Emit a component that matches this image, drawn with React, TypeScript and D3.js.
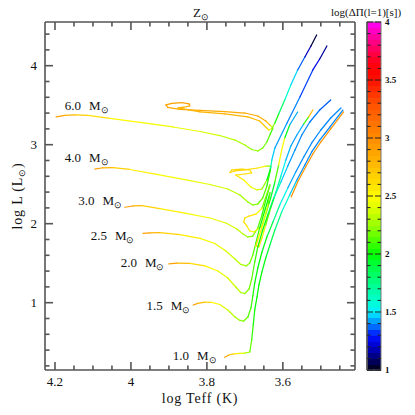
import React from "react";
import * as d3 from "d3";

// ---------- axis / scale data ----------
const X_DOMAIN = [4.2263, 3.41];
const Y_DOMAIN = [0.148, 4.553];
const CB_DOMAIN = [1, 4];

const xMajorTicks = [4.2, 4.0, 3.8, 3.6];
const xTickLabels = ["4.2", "4", "3.8", "3.6"];
const yMajorTicks = [1, 2, 3, 4];
const yTickLabels = ["1", "2", "3", "4"];
const cbMajorTicks = [1, 1.5, 2, 2.5, 3, 3.5, 4];
const cbTickLabels = ["1", "1.5", "2", "2.5", "3", "3.5", "4"];

// colour map of log(ΔΠ)
const cmapStops = [1.0, 1.1, 1.2, 1.3, 1.4, 1.5, 1.6, 1.7, 1.8, 1.9, 2.0, 2.1, 2.2, 2.3, 2.4, 2.5, 2.6, 2.7, 2.8, 2.9, 3.0, 3.1, 3.2, 3.3, 3.4, 3.5, 3.6, 3.7, 3.8, 3.9, 4.0];
const cmapColors = ["#000010", "#000070", "#0000c8", "#0010ff", "#0088ff", "#00f0ff", "#00ffd0", "#00ffa0", "#00ff70", "#00ff40", "#00ff00", "#40ff00", "#80ff00", "#b0ff00", "#e0ff00", "#ffff00", "#ffe000", "#ffcc00", "#ffb400", "#ffa000", "#ff8c00", "#ff7800", "#ff6400", "#ff5000", "#ff3000", "#ff1000", "#ff0000", "#ff0030", "#ff0070", "#ff00b0", "#ff00ff"];

// ---------- tracks: [log Teff, log L, log ΔΠ] ----------
const track60 = [
  [4.197, 3.351, 2.95], [4.174, 3.37, 2.85], [4.147, 3.376, 2.75], [4.113, 3.37, 2.65],
  [4.055, 3.332, 2.55], [3.976, 3.281, 2.48], [3.889, 3.224, 2.45], [3.818, 3.167, 2.4],
  [3.766, 3.116, 2.35], [3.726, 3.059, 2.3], [3.7, 2.996, 2.28], [3.682, 2.939, 2.25],
  [3.666, 2.92, 2.22], [3.653, 2.958, 2.2], [3.642, 3.034, 2.15], [3.633, 3.135, 2.1],
  [3.626, 3.211, 2.05],
  [3.634, 3.249, 2.7], [3.645, 3.3, 2.8], [3.666, 3.363, 2.85], [3.7, 3.401, 2.85],
  [3.753, 3.42, 2.85], [3.818, 3.433, 2.85], [3.871, 3.446, 2.85], [3.903, 3.471, 2.85],
  [3.908, 3.503, 2.9], [3.892, 3.522, 2.9], [3.866, 3.532, 2.9], [3.847, 3.518, 2.9],
  [3.845, 3.492, 2.85], [3.861, 3.474, 2.8], [3.876, 3.465, 2.8],
  [3.818, 3.414, 2.8], [3.753, 3.389, 2.8], [3.692, 3.351, 2.8], [3.661, 3.3, 2.75],
  [3.645, 3.224, 2.7], [3.637, 3.186, 2.6], [3.629, 3.205, 2.3], [3.621, 3.275, 2.1],
  [3.611, 3.389, 1.95], [3.595, 3.566, 1.7], [3.579, 3.756, 1.5], [3.561, 3.946, 1.45],
  [3.542, 4.11, 1.28], [3.526, 4.249, 1.1], [3.511, 4.389, 1.0],
];

const track40 = [
  [4.095, 2.691, 2.95], [4.074, 2.708, 2.85], [4.047, 2.709, 2.75], [4.003, 2.686, 2.6],
  [3.932, 2.623, 2.5], [3.858, 2.559, 2.45], [3.792, 2.496, 2.4], [3.745, 2.439, 2.35],
  [3.713, 2.363, 2.3], [3.692, 2.275, 2.25], [3.679, 2.237, 2.22], [3.666, 2.249, 2.2],
  [3.653, 2.325, 2.15], [3.642, 2.477, 2.1], [3.634, 2.654, 2.05], [3.632, 2.73, 2.0],
  [3.645, 2.73, 2.5], [3.666, 2.705, 2.6], [3.7, 2.68, 2.65], [3.726, 2.667, 2.65],
  [3.739, 2.648, 2.65], [3.734, 2.68, 2.65], [3.708, 2.692, 2.65], [3.687, 2.68, 2.6],
  [3.682, 2.642, 2.6], [3.7, 2.629, 2.6], [3.724, 2.616, 2.6],
  [3.703, 2.553, 2.55], [3.684, 2.465, 2.45], [3.668, 2.427, 2.4], [3.655, 2.439, 2.3],
  [3.642, 2.553, 2.15], [3.632, 2.705, 1.8], [3.629, 2.806, 1.5], [3.621, 2.958, 1.43],
  [3.589, 3.275, 1.41], [3.555, 3.604, 1.38], [3.521, 3.946, 1.3], [3.503, 4.085, 1.2],
  [3.484, 4.249, 1.1],
];

const track30 = [
  [4.016, 2.208, 2.95], [3.995, 2.224, 2.85], [3.971, 2.228, 2.75], [3.924, 2.192, 2.6],
  [3.858, 2.135, 2.5], [3.792, 2.072, 2.45], [3.75, 2.009, 2.4], [3.721, 1.933, 2.35],
  [3.705, 1.87, 2.3], [3.692, 1.832, 2.25], [3.679, 1.844, 2.2], [3.666, 1.946, 2.15],
  [3.655, 2.11, 2.1], [3.645, 2.3, 2.05], [3.634, 2.49, 2.0],
  [3.655, 2.196, 2.4], [3.671, 2.12, 2.55], [3.689, 2.097, 2.6], [3.7, 2.072, 2.6],
  [3.703, 2.022, 2.6], [3.695, 1.971, 2.6], [3.687, 1.908, 2.55], [3.676, 1.895, 2.5],
  [3.655, 1.971, 2.3], [3.645, 2.123, 2.1], [3.632, 2.325, 2.0], [3.621, 2.528, 1.85],
  [3.611, 2.743, 2.4], [3.603, 2.933, 2.55], [3.595, 3.085, 2.45], [3.582, 3.249, 1.45],
  [3.561, 3.414, 1.42],
];

const track25 = [
  [3.968, 1.878, 2.95], [3.95, 1.885, 2.85], [3.924, 1.886, 2.75], [3.871, 1.863, 2.6],
  [3.818, 1.813, 2.5], [3.779, 1.749, 2.45], [3.75, 1.654, 2.4], [3.726, 1.553, 2.35],
  [3.711, 1.484, 2.3], [3.697, 1.465, 2.25], [3.687, 1.503, 2.2], [3.679, 1.604, 2.15],
  [3.671, 1.756, 2.1], [3.661, 1.946, 2.05], [3.647, 2.173, 2.0], [3.634, 2.389, 2.0],
  [3.639, 2.237, 2.3], [3.653, 1.984, 2.5], [3.666, 1.794, 2.6], [3.671, 1.718, 2.6],
  [3.663, 1.706, 2.6], [3.655, 1.819, 2.55], [3.645, 1.984, 2.3], [3.632, 2.199, 2.05],
  [3.618, 2.401, 1.85], [3.605, 2.604, 1.6], [3.592, 2.806, 1.47], [3.579, 2.984, 1.42],
  [3.563, 3.123, 1.42], [3.545, 3.262, 1.45], [3.532, 3.351, 2.7], [3.521, 3.439, 2.85],
];

const track20 = [
  [3.9, 1.49, 2.95], [3.879, 1.5, 2.85], [3.845, 1.499, 2.7], [3.805, 1.465, 2.55],
  [3.771, 1.401, 2.45], [3.745, 1.313, 2.4], [3.724, 1.199, 2.35], [3.711, 1.129, 2.3],
  [3.7, 1.116, 2.25], [3.689, 1.173, 2.2], [3.682, 1.3, 2.15], [3.674, 1.515, 2.1],
  [3.666, 1.705, 2.05], [3.653, 1.92, 2.0], [3.639, 2.123, 1.95], [3.624, 2.325, 1.75],
  [3.605, 2.528, 1.5], [3.587, 2.73, 1.43], [3.568, 2.933, 1.41], [3.55, 3.123, 1.4],
  [3.529, 3.287, 1.4], [3.503, 3.439, 1.38], [3.474, 3.566, 1.35],
];

const track15 = [
  [3.836, 0.971, 2.95], [3.824, 0.992, 2.85], [3.805, 1.006, 2.7], [3.787, 1.003, 2.55],
  [3.766, 0.977, 2.45], [3.745, 0.908, 2.35], [3.726, 0.819, 2.3], [3.713, 0.775, 2.25],
  [3.703, 0.768, 2.2], [3.692, 0.819, 2.15], [3.684, 0.933, 2.1], [3.679, 1.085, 2.05],
  [3.674, 1.25, 2.0], [3.666, 1.439, 2.0], [3.655, 1.642, 2.0], [3.642, 1.832, 1.95],
  [3.626, 2.022, 1.85], [3.608, 2.237, 1.65], [3.587, 2.452, 1.45], [3.566, 2.655, 1.41],
  [3.545, 2.844, 1.4], [3.524, 3.022, 1.4], [3.5, 3.186, 1.4], [3.474, 3.338, 1.4],
  [3.447, 3.465, 1.4],
];

const track10 = [
  [3.753, 0.309, 2.95], [3.742, 0.338, 2.8], [3.729, 0.353, 2.65], [3.713, 0.359, 2.5],
  [3.7, 0.363, 2.35], [3.687, 0.376, 2.2], [3.682, 0.528, 2.1], [3.678, 0.718, 2.05],
  [3.674, 0.908, 2.0], [3.668, 1.073, 2.0], [3.663, 1.225, 2.0], [3.655, 1.389, 2.0],
  [3.645, 1.566, 1.95], [3.634, 1.73, 1.9], [3.621, 1.92, 1.85], [3.603, 2.148, 1.7],
  [3.582, 2.363, 1.5], [3.563, 2.553, 1.42], [3.542, 2.743, 1.4], [3.524, 2.908, 1.4],
  [3.503, 3.059, 1.4], [3.476, 3.224, 1.4], [3.442, 3.439, 1.4],
];

const track10Agb = [
  [3.578, 2.338, 2.95], [3.561, 2.528, 2.95], [3.54, 2.718, 2.95], [3.521, 2.882, 2.95],
  [3.5, 3.034, 2.95], [3.474, 3.199, 2.95], [3.44, 3.414, 2.95],
];

const massLabels = ["6.0", "4.0", "3.0", "2.5", "2.0", "1.5", "1.0"];
const labelPos = [
  [4.174, 3.439], [4.174, 2.781], [4.139, 2.237], [4.106, 1.794],
  [4.027, 1.456], [3.959, 0.908], [3.89, 0.275],
];

const allTracks = [track10Agb, track60, track40, track30, track25, track20, track15, track10];

const SERIF = "'Liberation Serif', 'Times New Roman', serif";
const AX = "#555";

export default function App() {
  const x = d3.scaleLinear().domain(X_DOMAIN).range([45, 355]);
  const y = d3.scaleLinear().domain(Y_DOMAIN).range([370, 22]);
  const cb = d3.scaleLinear().domain(CB_DOMAIN).range([370, 22]);
  const cmap = d3
    .scaleLinear<string>()
    .domain(cmapStops)
    .range(cmapColors)
    .interpolate(d3.interpolateRgb)
    .clamp(true);

  const x0 = 45, x1 = 355, y0 = 370, y1 = 22;
  const xMinor = d3.range(3.45, 4.2001, 0.05);
  const yMinor = d3.range(0.2, 4.5001, 0.2);
  const isMajor = (v: number, step: number) => Math.abs(v / step - Math.round(v / step)) < 1e-6;

  const segs: any[] = [];
  allTracks.forEach((tr, ti) => {
    for (let i = 0; i < tr.length - 1; i++) {
      const a = tr[i], b = tr[i + 1];
      segs.push(
        <line
          key={`s${ti}-${i}`}
          x1={x(a[0])} y1={y(a[1])} x2={x(b[0])} y2={y(b[1])}
          stroke={cmap((a[2] + b[2]) / 2)}
          strokeWidth={1.25}
          strokeLinecap="round"
        />
      );
    }
  });

  const cbX = 367, cbW = 14;
  const bands = d3.range(0, 60).map((i) => 1 + i * 0.05);
  const cbTicks = d3.range(1, 4.0001, 0.1);

  return (
    <svg width={415} height={415} style={{ position: "absolute", left: 0, top: 0, background: "#fff" }} fontFamily={SERIF}>
      <rect x={0} y={0} width={415} height={415} fill="#fff" />
      {/* tracks */}
      <g>{segs}</g>

      {/* mass labels */}
      {massLabels.map((m, i) => (
        <text key={m} x={x(labelPos[i][0])} y={y(labelPos[i][1])} fontSize={13} fill="#111">
          {m}
          <tspan dx={8}>M</tspan>
          <tspan dy={3} fontSize={9}>⊙</tspan>
        </text>
      ))}

      {/* frame */}
      <g stroke={AX} strokeWidth={1.6} fill="none">
        <line x1={x0} y1={y0} x2={x1} y2={y0} />
        <line x1={x0} y1={y1} x2={x1} y2={y1} />
        <line x1={x0} y1={y0} x2={x0} y2={y1} />
        <line x1={x1} y1={y0} x2={x1} y2={y1} />
        {xMinor.map((v, i) => {
          const L = isMajor(v, 0.2) ? 8 : 4.5;
          return (
            <g key={`xt${i}`}>
              <line x1={x(v)} x2={x(v)} y1={y0} y2={y0 - L} />
              <line x1={x(v)} x2={x(v)} y1={y1} y2={y1 + L} />
            </g>
          );
        })}
        {yMinor.map((v, i) => {
          const L = isMajor(v, 1) ? 8 : 4.5;
          return (
            <g key={`yt${i}`}>
              <line x1={x0} x2={x0 + L} y1={y(v)} y2={y(v)} />
              <line x1={x1} x2={x1 - L} y1={y(v)} y2={y(v)} />
            </g>
          );
        })}
      </g>

      {/* tick labels */}
      {xMajorTicks.map((v, i) => (
        <text key={`xl${i}`} x={x(v)} y={386} fontSize={13} textAnchor="middle" fill="#111">
          {xTickLabels[i]}
        </text>
      ))}
      {yMajorTicks.map((v, i) => (
        <text key={`yl${i}`} x={37} y={y(v) + 4.5} fontSize={13} textAnchor="end" fill="#111">
          {yTickLabels[i]}
        </text>
      ))}

      {/* axis titles */}
      <text x={200} y={403} fontSize={14} textAnchor="middle" letterSpacing={0.8} fill="#111">
        log Teff (K)
      </text>
      <text transform="translate(22,196) rotate(-90)" fontSize={14} textAnchor="middle" letterSpacing={0.8} fill="#111">
        log L (L<tspan dy={3} fontSize={9}>⊙</tspan><tspan dy={-3}>)</tspan>
      </text>
      <text x={193} y={16.5} fontSize={13} fill="#111">
        Z<tspan dy={3} fontSize={9}>⊙</tspan>
      </text>

      {/* colour bar */}
      <g shapeRendering="crispEdges">
        {bands.map((v, i) => (
          <rect key={`b${i}`} x={cbX} y={cb(v + 0.05)} width={cbW} height={cb(v) - cb(v + 0.05) + 0.5} fill={cmap(v + 0.025)} />
        ))}
      </g>
      <rect x={cbX} y={22} width={cbW} height={348} fill="none" stroke="#777" strokeWidth={1} />
      <line x1={cbX} x2={cbX} y1={22} y2={370} stroke="#555" strokeWidth={1.6} />
      <g stroke="#222" strokeWidth={1}>
        {cbTicks.map((v, i) => {
          const L = isMajor(v, 0.5) ? 6 : 3.5;
          return (
            <g key={`ct${i}`}>
              <line x1={cbX} x2={cbX + L} y1={cb(v)} y2={cb(v)} />
              <line x1={cbX + cbW} x2={cbX + cbW - L} y1={cb(v)} y2={cb(v)} />
            </g>
          );
        })}
      </g>
      {cbMajorTicks.map((v, i) => (
        <text key={`cl${i}`} x={385} y={cb(v) + 3} fontSize={9} fontWeight="bold" fill="#111">
          {cbTickLabels[i]}
        </text>
      ))}
      <text x={331} y={16} fontSize={11} fill="#111">
        log(ΔΠ(l=1)[s])
      </text>
    </svg>
  );
}
